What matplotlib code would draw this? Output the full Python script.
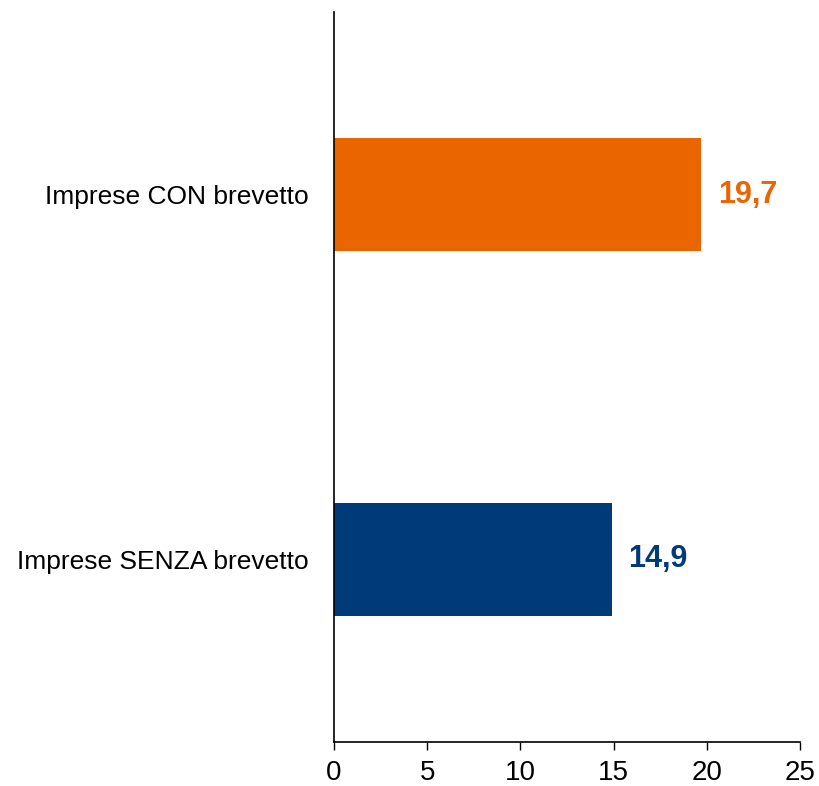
import matplotlib
matplotlib.use("Agg")
import matplotlib.pyplot as plt

plt.rcParams['font.family'] = ['Liberation Sans', 'DejaVu Sans']

categories = ["Imprese SENZA brevetto", "Imprese CON brevetto"]
values = [14.9, 19.7]
value_labels = ["14,9", "19,7"]
colors = ["#003A78", "#EA6500"]
x_ticks = [0, 5, 10, 15, 20, 25]

fig = plt.figure(figsize=(8.19, 7.86), dpi=100)
ax = fig.add_axes([334 / 819, 1 - 742 / 786, 466 / 819, 730 / 786])

ypos = list(range(len(categories)))
ax.barh(ypos, values, height=0.312, color=colors)

for y, v, lab, c in zip(ypos, values, value_labels, colors):
    ax.text(v + 0.9, y, lab, color=c, fontsize=22, fontweight='bold',
            va='center', ha='left')

ax.set_xlim(0, 25)
ax.set_ylim(-0.5, 1.5)
ax.set_xticks(x_ticks)
ax.set_yticks(ypos)
ax.set_yticklabels(categories)
ax.tick_params(axis='x', labelsize=20, length=6, width=1, direction='out', pad=7)
ax.tick_params(axis='y', labelsize=19, length=0, pad=18)

for s in ['top', 'right']:
    ax.spines[s].set_visible(False)
ax.spines['left'].set_linewidth(1.2)
ax.spines['bottom'].set_linewidth(1.2)

fig.savefig("out.png", dpi=100)
